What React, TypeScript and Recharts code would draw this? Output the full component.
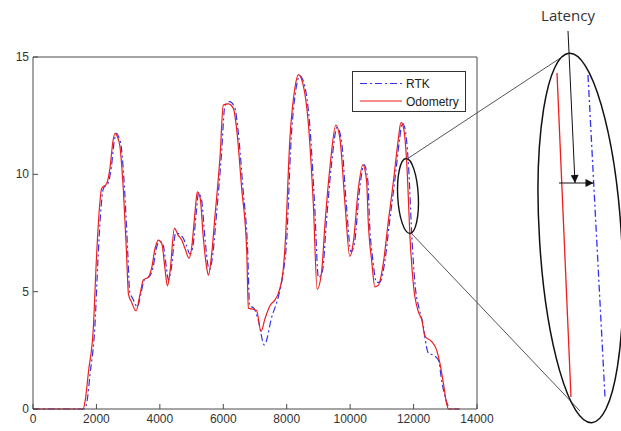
import { LineChart, Line, XAxis, YAxis, Legend } from 'recharts';

// odometry trace (red)
const odoDist = [
  0, 1580, 1650, 1750, 1900, 2000, 2080, 2165, 2320, 2430, 2520, 2590, 2660, 2740, 2850, 2950, 3010, 3110, 3250,
  3370, 3480, 3640, 3740, 3850, 3950, 4060, 4160, 4240, 4320, 4460, 4580, 4690, 4790, 4920, 5000, 5110, 5180,
  5270, 5370, 5480, 5530, 5630, 5740, 5900, 6000, 6160, 6320, 6420, 6580, 6740, 6790, 6950, 7050, 7190, 7315,
  7470, 7630, 7740, 7890, 7950, 8100, 8260, 8370, 8520, 8680, 8840, 8960, 9100, 9210, 9370, 9550, 9680, 9840,
  9990, 10100, 10260, 10400, 10520, 10570, 10680, 10780, 10890, 11050, 11200, 11360, 11520, 11600, 11680, 11780,
  11900, 11990, 12150, 12260, 12360, 12570, 12730, 12830, 12940, 13040, 13100, 13450,
];
const odoSpeed = [
  0, 0, 0.4, 1.6, 3.4, 6.4, 8.3, 9.4, 9.6, 10.3, 11.4, 11.75, 11.6, 11.2, 9.3, 6.6, 4.9, 4.55, 4.18,
  4.85, 5.5, 5.62, 6.0, 6.85, 7.2, 7.05, 6.0, 5.25, 5.85, 7.7, 7.4, 7.2, 6.85, 6.43, 6.85, 8.4, 9.25,
  9.0, 7.3, 6.0, 5.7, 6.55, 8.25, 10.8, 12.95, 13.0, 12.8, 11.95, 9.4, 6.7, 4.3, 4.25, 4.2, 3.3, 3.85,
  4.4, 4.65, 4.95, 5.95, 7.0, 11.5, 13.7, 14.25, 13.8, 12.2, 8.7, 5.1, 5.85, 7.95, 10.4, 12.1, 11.5, 8.7,
  6.5, 7.1, 9.4, 10.4, 9.7, 8.0, 6.3, 5.2, 5.28, 6.25, 7.95, 9.65, 11.5, 12.2, 12.0, 10.6,
  7.0, 5.35, 4.15, 3.8, 3.1, 2.87, 2.5, 1.95, 1.1, 0.25, 0, 0,
];

// RTK trace (blue, lags a little)
const rtkDist = [
  0, 1620, 1700, 1800, 1950, 2050, 2130, 2220, 2360, 2470, 2560, 2630, 2700, 2780, 2890, 2990, 3050, 3150, 3290,
  3400, 3510, 3670, 3780, 3890, 3990, 4100, 4200, 4270, 4360, 4500, 4620, 4730, 4830, 4950, 5040, 5150, 5220,
  5310, 5420, 5520, 5570, 5670, 5780, 5940, 6050, 6200, 6360, 6460, 6620, 6770, 6830, 6960, 7100, 7295, 7530,
  7740, 7900, 7990, 8140, 8300, 8410, 8560, 8720, 8880, 9000, 9130, 9250, 9410, 9590, 9720, 9880, 10030, 10140,
  10300, 10440, 10560, 10610, 10720, 10830, 10930, 11090, 11240, 11400, 11560, 11640, 11720, 11830, 11960, 12040,
  12190, 12300, 12400, 12470, 12620, 12780, 12900, 13100, 13150, 13450,
];
const rtkSpeed = [
  0, 0, 0.3, 1.5, 3.5, 6.4, 8.3, 9.4, 9.6, 10.3, 11.4, 11.75, 11.6, 11.2, 9.3, 6.6, 5.0, 4.7, 4.35,
  4.9, 5.5, 5.65, 6.0, 6.85, 7.15, 7.0, 6.1, 5.5, 6.0, 7.5, 7.45, 7.3, 7.0, 6.6, 6.9, 8.4, 9.2,
  8.95, 7.3, 6.1, 5.95, 6.6, 8.2, 10.8, 12.9, 13.1, 12.85, 11.95, 9.4, 6.7, 4.4, 4.3, 3.8, 2.73, 3.93,
  4.8, 5.9, 7.0, 11.5, 13.7, 14.2, 13.8, 12.2, 8.7, 5.6, 5.9, 7.95, 10.4, 12.0, 11.5, 8.7, 6.7, 7.1,
  9.4, 10.4, 9.7, 8.0, 6.3, 5.4, 5.4, 6.25, 7.95, 9.65, 11.5, 12.2, 12.0, 10.6, 7.0, 5.4,
  4.2, 3.6, 2.7, 2.37, 2.3, 2.09, 1.1, 0.1, 0, 0,
];

const xTicks = [0, 2000, 4000, 6000, 8000, 10000, 12000, 14000];
const yTicks = [0, 5, 10, 15];

const odoData = odoDist.map((x, i) => ({ x, y: odoSpeed[i] }));
const rtkData = rtkDist.map((x, i) => ({ x, y: rtkSpeed[i] }));

const AXIS = '#4a4a4a';
const LABEL = '#333';
const BLUE = '#3232f0';
const RED = '#f01c1c';
const DASH = '7 3 2 3';
const TICK_FONT = { fontFamily: '"Liberation Sans", Arial, sans-serif', fontSize: 12 };

function BottomTick({ x, y, payload }: any) {
  return (
    <g>
      <line x1={x} y1={y} x2={x} y2={y - 5} stroke={AXIS} />
      <text x={x} y={y + 14} textAnchor="middle" fill={LABEL} style={TICK_FONT}>{payload.value}</text>
    </g>
  );
}

function LeftTick({ x, y, payload }: any) {
  return (
    <g>
      <line x1={x} y1={y} x2={x + 5} y2={y} stroke={AXIS} />
      <text x={x - 4} y={y + 4} textAnchor="end" fill={LABEL} style={TICK_FONT}>{payload.value}</text>
    </g>
  );
}

function TopTick({ x, y }: any) {
  return <line x1={x} y1={y} x2={x} y2={y + 5} stroke={AXIS} />;
}

function RightTick({ x, y }: any) {
  return <line x1={x} y1={y} x2={x - 5} y2={y} stroke={AXIS} />;
}

function LegendBox() {
  const rows = [
    { name: 'RTK', color: BLUE, dash: DASH },
    { name: 'Odometry', color: RED, dash: undefined },
  ];
  return (
    <svg width={114} height={41} style={{ display: 'block' }}>
      <rect x={0.5} y={0.5} width={113} height={40} fill="#fff" stroke="#333" />
      {rows.map((r, i) => (
        <g key={r.name}>
          <line x1={8} x2={50} y1={12.5 + i * 17.5} y2={12.5 + i * 17.5} stroke={r.color} strokeWidth={1.2} strokeDasharray={r.dash} />
          <text x={54} y={17 + i * 17.5} fill="#222" style={TICK_FONT}>{r.name}</text>
        </g>
      ))}
    </svg>
  );
}

function ZoomCallout() {
  return (
    <svg width={621} height={431} style={{ position: 'absolute', left: 0, top: 0, pointerEvents: 'none' }}>
      <defs>
        <marker id="head" viewBox="0 0 10 10" refX="10" refY="5" markerWidth="9" markerHeight="8" orient="auto">
          <path d="M0,0 L10,5 L0,10 z" fill="#111" />
        </marker>
      </defs>
      {/* small ellipse around the falling edge */}
      <ellipse cx={408} cy={196} rx={10.3} ry={37.5} fill="none" stroke="#111" strokeWidth={1.4} transform="rotate(-3 408 196)" />
      <line x1={407} y1={159} x2={568} y2={53} stroke="#555" strokeWidth={1} />
      <line x1={411} y1={233} x2={580} y2={411} stroke="#555" strokeWidth={1} />
      {/* magnified view */}
      <ellipse cx={580.5} cy={238} rx={41} ry={185} fill="none" stroke="#111" strokeWidth={1.5} transform="rotate(-3.5 580.5 238)" />
      <line x1={557} y1={73} x2={571} y2={397} stroke={RED} strokeWidth={1.3} />
      <line x1={588} y1={75} x2={605} y2={397} stroke={BLUE} strokeWidth={1.3} strokeDasharray={DASH} />
      <line x1={568} y1={31} x2={575} y2={183} stroke="#111" strokeWidth={1} markerEnd="url(#head)" />
      <line x1={559} y1={183} x2={593.5} y2={183} stroke="#111" strokeWidth={1} markerEnd="url(#head)" />
      <text x={568} y={21} textAnchor="middle" fill="#333" style={{ fontFamily: '"Open Sans", sans-serif', fontSize: 15 }}>Latency</text>
    </svg>
  );
}

export default function App() {
  return (
    <div style={{ position: 'absolute', left: 0, top: 0, width: 621, height: 431, background: '#fff' }}>
      <LineChart width={621} height={431} margin={{ top: 56, right: 143, bottom: 0, left: 8 }}>
        <XAxis
          xAxisId="b" dataKey="x" type="number" domain={[0, 14000]} ticks={xTicks}
          height={22} tickSize={0} tickMargin={0} tickLine={false} tick={<BottomTick />}
          axisLine={{ stroke: AXIS }} allowDataOverflow
        />
        <XAxis
          xAxisId="t" orientation="top" dataKey="x" type="number" domain={[0, 14000]} ticks={xTicks}
          height={1} tickSize={0} tickMargin={0} tickLine={false} tick={<TopTick />}
          axisLine={{ stroke: AXIS }}
        />
        <YAxis
          yAxisId="l" type="number" domain={[0, 15]} ticks={yTicks} width={25}
          tickSize={0} tickMargin={0} tickLine={false} tick={<LeftTick />} axisLine={{ stroke: AXIS }}
        />
        <YAxis
          yAxisId="r" orientation="right" type="number" domain={[0, 15]} ticks={yTicks} width={1}
          tickSize={0} tickMargin={0} tickLine={false} tick={<RightTick />} axisLine={{ stroke: AXIS }}
        />
        <Legend
          layout="vertical" align="center" verticalAlign="middle"
          wrapperStyle={{ left: 352, top: 71, width: 114, height: 41 }}
          content={() => <LegendBox />}
        />
        <Line
          xAxisId="b" yAxisId="l" data={rtkData} dataKey="y" name="RTK" type="monotone"
          stroke={BLUE} strokeWidth={1.2} strokeDasharray={DASH} dot={false} isAnimationActive={false}
        />
        <Line
          xAxisId="b" yAxisId="l" data={odoData} dataKey="y" name="Odometry" type="monotone"
          stroke={RED} strokeWidth={1.2} dot={false} isAnimationActive={false}
        />
      </LineChart>
      <ZoomCallout />
    </div>
  );
}
